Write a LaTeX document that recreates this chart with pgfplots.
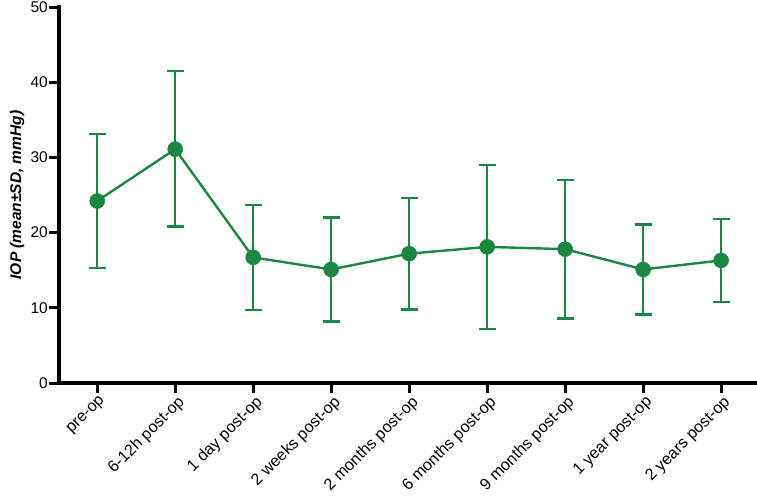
\documentclass[border=0pt]{standalone}
\usepackage{pgfplots}
\pgfplotsset{compat=1.18}
\usepackage{fontspec}
\setmainfont{Liberation Sans}
\definecolor{pg}{HTML}{1A8743}
\begin{document}
\begin{tikzpicture}
\begin{axis}[
  name=ax,
  scale only axis,
  width=698pt, height=376pt,
  xmin=-0.49, xmax=8.46,
  ymin=0, ymax=50,
  axis x line*=bottom, axis y line*=left,
  x axis line style={line width=3.5pt, line cap=rect, -},
  y axis line style={line width=3.5pt, line cap=rect, -},
  major tick style={black, line width=3pt},
  tick align=outside,
  major tick length=10pt,
  ytick={0,10,...,50},
  xtick={0,...,8},
  xticklabels={pre-op,6-12h post-op,1 day post-op,2 weeks post-op,2 months post-op,6 months post-op,9 months post-op,1 year post-op,2 years post-op},
  x tick label style={rotate=45, anchor=north east, font=\fontsize{16.2}{17}\selectfont, inner sep=1pt, xshift=1pt, yshift=-1pt},
  y tick label style={font=\fontsize{15.5}{17}\selectfont, inner sep=1pt},
  /pgf/number format/assume math mode=true,
  ylabel={\textbf{\textit{IOP (mean±SD, mmHg)}}},
  every axis y label/.style={at={(rel axis cs:0,0.5)}, xshift=-42pt, rotate=90, anchor=center, font=\fontsize{15.5}{17}\selectfont},
  clip=false,
]
\addplot[color=pg, line width=2.4pt, mark=*, mark size=7.5pt, mark options={fill=pg, draw=pg, line width=0.5pt},
  error bars/.cd, y dir=both, y explicit, error bar style={line width=2.4pt, color=pg},
  error mark options={rotate=90, mark size=8.5pt, line width=2.4pt, color=pg}]
  table[x=x, y=y, y error plus=ep, y error minus=em] {
x y ep em
0 24.2 8.9 8.9
1 31.1 10.4 10.3
2 16.7 7.0 7.0
3 15.1 6.9 6.9
4 17.2 7.4 7.4
5 18.1 10.9 10.9
6 17.8 9.2 9.2
7 15.1 6.0 6.0
8 16.3 5.5 5.5
};
\end{axis}
\pgfresetboundingbox
\path (ax.south west) ++(-59pt,-113pt) rectangle ++(757pt,496pt);
\end{tikzpicture}
\end{document}
